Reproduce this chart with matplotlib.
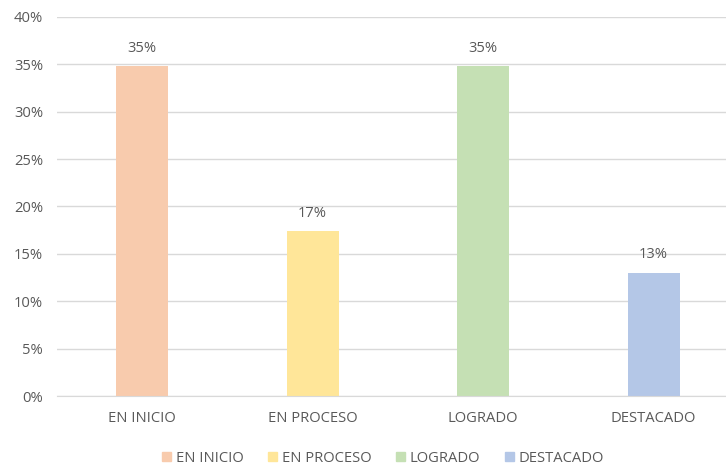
import matplotlib.pyplot as plt
from matplotlib.patches import Patch

plt.rcParams["font.family"] = ["Open Sans", "DejaVu Sans"]

categories = ["EN INICIO", "EN PROCESO", "LOGRADO", "DESTACADO"]
values = [0.348, 0.174, 0.348, 0.130]
labels = ["35%", "17%", "35%", "13%"]
colors = ["#F8CBAD", "#FFE699", "#C5E0B4", "#B4C7E7"]
text_color = "#595959"
fs = 10.6

fig = plt.figure(figsize=(7.26, 4.65), dpi=100)
ax = fig.add_axes([57 / 726, 69 / 465, 669 / 726, 379 / 465])

x = range(len(categories))
bars = ax.bar(x, values, width=0.305, color=colors, zorder=2)
for b, lab in zip(bars, labels):
    ax.text(b.get_x() + b.get_width() / 2, b.get_height() + 0.011, lab,
            ha="center", va="bottom", fontsize=fs, color=text_color)

ax.set_xlim(-0.5, 3.425)
ax.set_ylim(0, 0.40)
ax.set_yticks([i * 0.05 for i in range(9)])
ax.set_yticklabels([f"{i * 5}%" for i in range(9)])
ax.set_xticks(list(x))
ax.set_xticklabels(categories)
ax.yaxis.grid(True, color="#D9D9D9", linewidth=1, zorder=0)
for s in ["top", "right", "left"]:
    ax.spines[s].set_visible(False)
ax.spines["bottom"].set_color("#D9D9D9")
ax.tick_params(axis="both", length=0, colors=text_color, labelsize=fs)
ax.tick_params(axis="x", pad=11)
ax.tick_params(axis="y", pad=10)

handles = [Patch(color=c, label=n) for c, n in zip(colors, categories)]
fig.legend(handles=handles, loc="center", bbox_to_anchor=(383 / 726, 7 / 465), ncol=4,
           frameon=False, fontsize=fs, labelcolor=text_color, handlelength=0.6,
           handleheight=0.6, handletextpad=0.3, columnspacing=1.7)

fig.savefig("out.png", dpi=100)
